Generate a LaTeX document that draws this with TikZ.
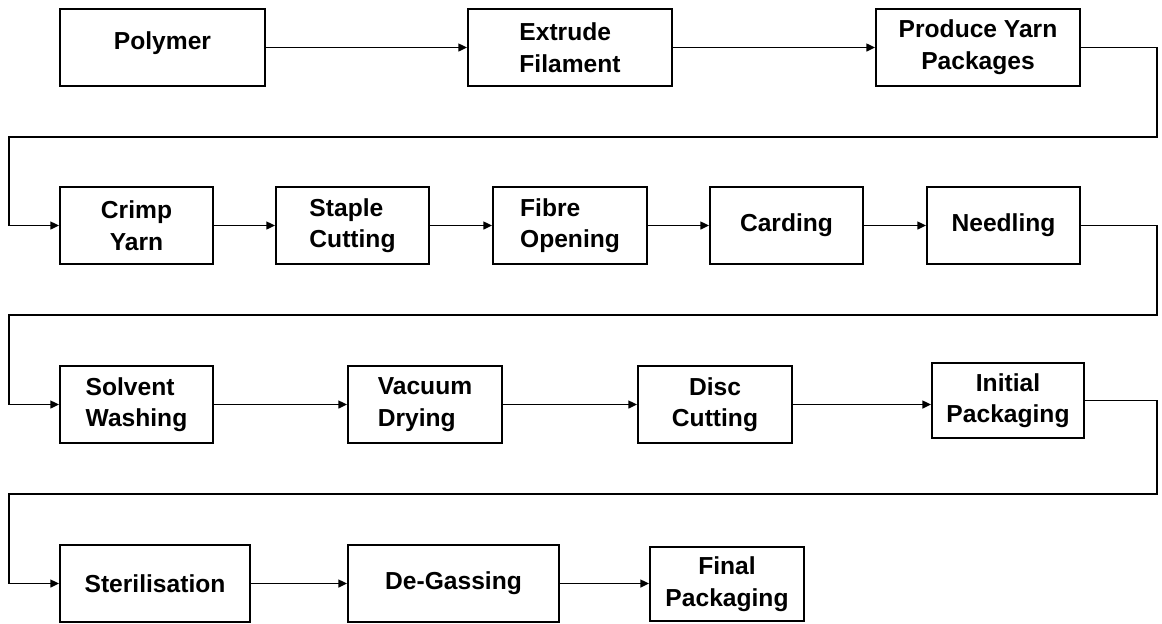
\documentclass[tikz,border=0pt]{standalone}
\usepackage{fontspec}
\setmainfont{Liberation Sans}
\usetikzlibrary{arrows.meta}
\begin{document}
\begin{tikzpicture}[x=0.02cm, y=-0.02cm,
  box/.style={draw, line width=1.1pt, inner sep=2pt, minimum height=1.54cm,
              font=\fontsize{14}{18}\selectfont\bfseries, align=center},
  lbox/.style={box, align=left},
  flow/.style={line width=1pt, -{Triangle[length=5pt, width=4.5pt]}}
]
\useasboundingbox (0,0) rectangle (1162,623);

%% Row 1
\node[box, minimum width=4.1cm, text depth=0.26cm] (polymer) at (162.5,47.5) {Polymer};
\node[lbox, minimum width=4.08cm] (extrude) at (570,47.5)   {Extrude\\Filament};
\node[box, minimum width=4.08cm]  (produce) at (978,47.5)   {Produce Yarn\\Packages};

%% Row 2
\node[box, minimum width=3.06cm]  (crimp)   at (136.5,225.5)  {Crimp\\Yarn};
\node[lbox, minimum width=3.06cm] (staple)  at (352.5,225.5)  {Staple\\Cutting};
\node[lbox, minimum width=3.08cm] (fibre)   at (570,225.5)    {Fibre\\Opening};
\node[box, minimum width=3.06cm]  (carding) at (786.5,225.5)  {Carding};
\node[box, minimum width=3.06cm]  (needle)  at (1003.5,225.5) {Needling};

%% Row 3
\node[lbox, minimum width=3.06cm] (solvent) at (136.5,404.5) {Solvent\\Washing};
\node[lbox, minimum width=3.08cm] (vacuum)  at (425,404.5)   {Vacuum\\Drying};
\node[box, minimum width=3.08cm]  (disc)    at (715,404.5)   {Disc\\Cutting};
\node[box, minimum width=3.04cm, minimum height=1.5cm] (initial) at (1008,400.5) {Initial\\Packaging};

%% Row 4
\node[box, minimum width=3.8cm]   (steril)  at (155,583.5)   {Sterilisation};
\node[box, minimum width=4.22cm]  (degas)   at (453.5,583.5) {De-Gassing};
\node[box, minimum width=3.08cm, minimum height=1.48cm] (final) at (727,584) {Final\\Packaging};

%% Turn points between rows
\coordinate (r1e) at (1157,137); \coordinate (r1w) at (9,137);
\coordinate (r2e) at (1157,315); \coordinate (r2w) at (9,315);
\coordinate (r3e) at (1157,494); \coordinate (r3w) at (9,494);

%% Connectors
\draw[flow] (polymer.east) -- (extrude.west);
\draw[flow] (extrude.east) -- (produce.west);
\draw[flow] (produce.east) -| (r1e) -- (r1w) |- (crimp.west);

\draw[flow] (crimp.east)   -- (staple.west);
\draw[flow] (staple.east)  -- (fibre.west);
\draw[flow] (fibre.east)   -- (carding.west);
\draw[flow] (carding.east) -- (needle.west);
\draw[flow] (needle.east) -| (r2e) -- (r2w) |- (solvent.west);

\draw[flow] (solvent.east) -- (vacuum.west);
\draw[flow] (vacuum.east)  -- (disc.west);
\draw[flow] (disc.east)    -- (disc.east -| initial.west);
\draw[flow] (initial.east) -| (r3e) -- (r3w) |- (steril.west);

\draw[flow] (steril.east)  -- (degas.west);
\draw[flow] (degas.east)   -- (degas.east -| final.west);
\end{tikzpicture}
\end{document}
